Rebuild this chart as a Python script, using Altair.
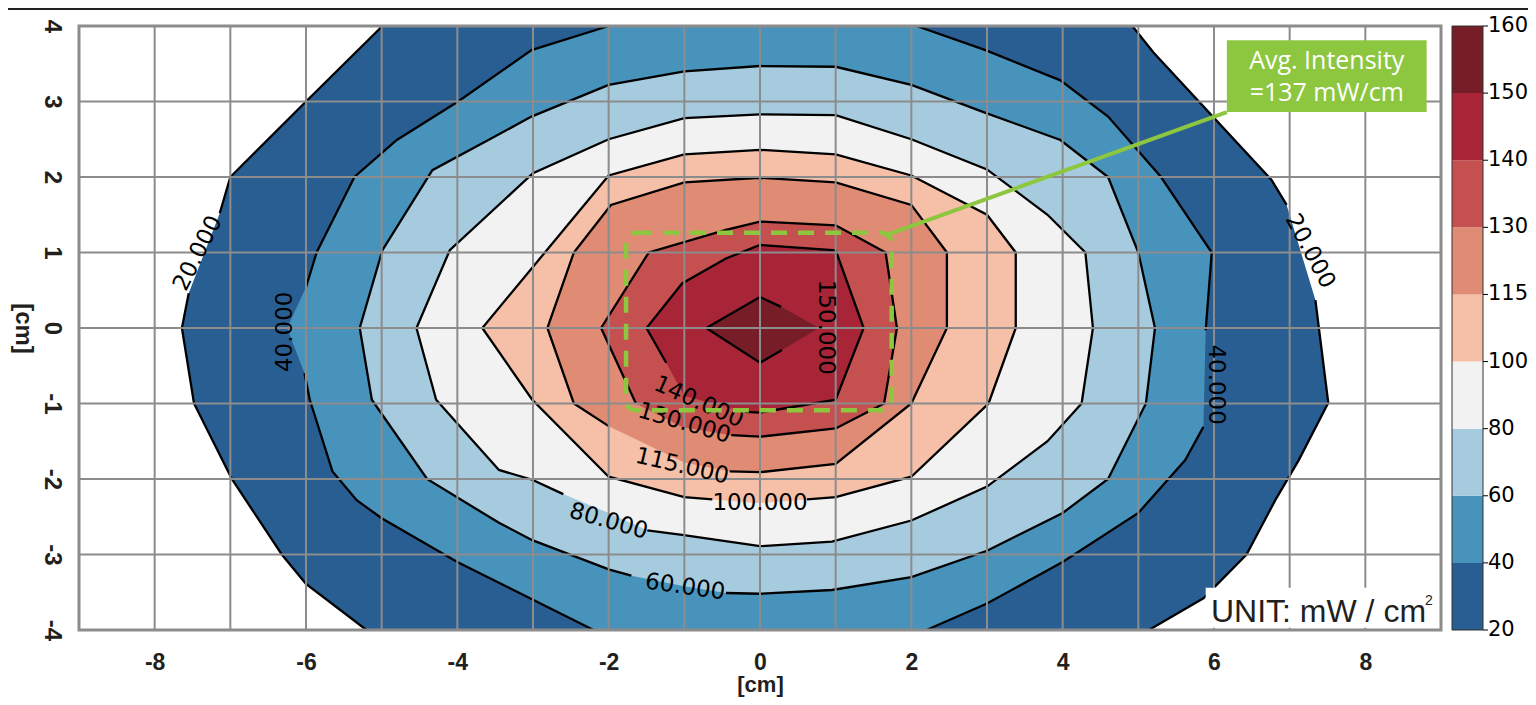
import altair as alt
import pandas as pd

# ---------------- data ----------------
LEVELS = [20, 40, 60, 80, 100, 115, 130, 140, 150, 160]
BAND_COLORS = ['#295e93', '#4893bc', '#a6cbde', '#f2f2f2', '#f6bfa7',
               '#e08b74', '#c4514f', '#a72537', '#761d28']

# contour vertices (x [cm], y [cm]); None = pen-up (label gap)
C20 = [(-4.99, 4), (-6.0, 3.0), (-7.0, 2.0), (-7.14, 1.52), None,
       (-7.55, 0.46), (-7.64, 0.0), (-7.48, -1.0), (-6.98, -2.0), (-6.32, -3.0),
       (-6.0, -3.39), (-5.2, -4), None,
       (5.14, -4), (5.86, -3.58), (6.43, -3.0), (6.81, -2.28), (7.12, -1.75),
       (7.51, -0.99), (7.34, 0.37), None, (6.96, 1.63), (6.76, 1.96),
       (5.2, 3.65), (4.92, 4)]
C40 = [(-2.0, 4), (-3.02, 3.68), (-3.99, 3.0), (-4.8, 2.49), (-5.36, 2.0),
       (-5.86, 1.0), (-6.0, 0.54), None, (-6.25, 0.0), None, (-6.02, -0.6),
       (-5.95, -0.95), (-5.65, -1.9), (-5.33, -2.28), (-5.0, -2.52),
       (-4.0, -3.1), (-3.0, -3.6), (-2.2, -4), None,
       (2.2, -4), (3.0, -3.65), (4.0, -3.1), (5.0, -2.45), (5.62, -1.75),
       (5.86, -1.31), None, (5.89, -0.03), (5.97, 1.0), (5.3, 2.0),
       (4.6, 2.8), (3.97, 3.28), (2.98, 3.68), (2.07, 4)]
C60 = [(-0.45, -3.51), (0.0, -3.52), (0.95, -3.47), (2.0, -3.3), (3.0, -2.95),
       (4.0, -2.45), (4.6, -2.0), (5.1, -1.0), (5.22, 0.0), (5.0, 1.0),
       (4.6, 2.0), (3.97, 2.49), (2.98, 2.85), (2.0, 3.22), (1.0, 3.46),
       (0.0, 3.47), (-1.0, 3.40), (-2.0, 3.22), (-3.02, 2.80), (-3.59, 2.49),
       (-4.33, 2.09), (-4.99, 1.03), (-5.29, 0.0), (-5.13, -0.95),
       (-4.4, -2.0), (-3.45, -2.58), (-3.01, -2.81), (-1.99, -3.2),
       (-1.7, -3.28), None, (-1.0, -3.42), None]
C80 = [(-1.49, -2.68), (-1.03, -2.74), (0.0, -2.89), (0.95, -2.83), (2.0, -2.55),
       (3.0, -2.1), (3.8, -1.5), (4.25, -1.0), (4.4, 0.0), (4.3, 1.0),
       (3.8, 1.5), (3.0, 2.1), (2.0, 2.5), (1.0, 2.82), (0.0, 2.83),
       (-1.0, 2.78), (-2.0, 2.5), (-3.0, 2.05), (-4.1, 1.03), (-4.54, 0.0),
       (-4.28, -0.95), (-3.45, -1.88), (-3.01, -2.01), (-2.6, -2.2), None,
       (-2.0, -2.45), None]
C100 = [(0.62, -2.27), (1.0, -2.24), (2.0, -1.97), (3.02, -1.0), (3.38, 0.0),
        (3.38, 1.0), (3.0, 1.5), (2.0, 2.02), (1.0, 2.3), (0.0, 2.36),
        (-1.0, 2.3), (-2.0, 2.02), (-3.67, 0.0), (-3.01, -0.95), (-2.0, -1.97),
        (-1.0, -2.24), (-0.63, -2.27), None, (0.0, -2.32), None]
C115 = [(-2.0, -1.3), (-2.46, -1.0), (-2.81, 0.0), (-2.46, 1.0), (-1.97, 1.63),
        (-1.0, 1.93), (0.0, 1.99), (1.0, 1.93), (2.0, 1.63), (2.47, 1.0),
        (2.47, 0.0), (2.0, -1.0), (1.0, -1.8), (0.0, -1.91), (-0.4, -1.9),
        None, (-1.0, -1.78), None]
C130 = [(-1.64, -1.0), (-2.1, 0.0), (-1.47, 1.0), (-0.45, 1.3), (0.0, 1.41),
        (1.0, 1.36), (1.66, 1.0), (1.81, 0.0), (1.64, -1.0), (1.0, -1.33),
        (0.0, -1.44), (-0.38, -1.42), None, (-1.03, -1.31), None]
C140 = [(-1.24, -0.46), (-1.5, 0.0), (-1.03, 0.59), (-0.45, 0.92), (0.0, 1.1),
        (1.0, 1.03), (1.37, 0.0), (1.0, -0.95), (0.0, -1.12), (-0.2, -1.11),
        None, (-1.0, -0.9), None]
C150 = [(-0.71, 0.0), (0.0, 0.41), (0.28, 0.28), None, (0.78, 0.0), None,
        (0.29, -0.29), (0.0, -0.46)]
CLOSED = [False, False, True, True, True, True, True, True, True]

# inline contour labels
LAB_TEXT = ['20.000', '40.000', '20.000', '40.000', '150.000', '140.000',
            '130.000', '115.000', '100.000', '80.000', '60.000']
LAB_X = [-7.43, -6.28, 7.27, 6.03, 0.87, -0.81, -1.0, -1.03, 0.0, -2.0, -0.99]
LAB_Y = [0.99, -0.05, 1.02, -0.75, 0.01, -0.98, -1.26, -1.83, -2.32, -2.56, -3.43]
LAB_ANGLE = [297, 270, 62, 90, 90, 24, 16, 13, 0, 16, 8]

GRID_X = list(range(-8, 9))
GRID_Y = list(range(-3, 4))
X_TICKS = list(range(-8, 9, 2))
Y_TICKS = list(range(-4, 5))

# annotations
BOX_RECT = [-1.77, 1.74, -1.09, 1.26]          # dashed region x1,x2,y1,y2
LEADER = [1.64, 1.22, 6.17, 2.86]              # x1,y1,x2,y2
NOTE_BOX = [6.17, 8.81, 2.86, 3.81]
NOTE_TEXT = ['Avg. Intensity', '=137 mW/cm']
NOTE_TX = [7.49, 7.49]
NOTE_TY = [3.54, 3.11]
UNIT_BOX = [5.89, 8.92, -3.97, -3.44]
UNIT_TEXT = 'UNIT: mW / cm'

GREEN = '#8dc63f'
CONTOURS = [C20, C40, C60, C80, C100, C115, C130, C140, C150]

# ---------------- scales / axes ----------------
XS = alt.Scale(domain=[-9, 9], nice=False, zero=False)
YS = alt.Scale(domain=[-4, 4], nice=False, zero=False)
XAX = alt.Axis(values=X_TICKS, grid=False, ticks=False, tickSize=0, domain=False,
               labelFlush=False, labelExpr="'' + datum.value",
               labelFont='Liberation Sans', labelFontWeight='bold',
               labelFontSize=23, labelColor='#231f20', labelPadding=21,
               title='[cm]', titleFont='Liberation Sans', titleFontWeight='bold',
               titleFontSize=22, titleColor='#231f20', titleY=54,
               titleBaseline='middle')
YAX = alt.Axis(values=Y_TICKS, grid=False, ticks=False, tickSize=0, domain=False,
               labelExpr="'' + datum.value",
               labelFont='Liberation Sans', labelFontWeight='bold', labelFontSize=24,
               labelColor='#231f20', labelPadding=16, labelAngle=90,
               labelAlign='center', labelBaseline='top',
               title='[cm]', titleFont='Liberation Sans', titleFontWeight='bold',
               titleFontSize=24, titleColor='#231f20', titleAngle=90,
               titleX=-57, titleY=302, titleAlign='center', titleBaseline='middle')


def X(f):
    return alt.X(f, type='quantitative', scale=XS, axis=XAX)


def Y(f):
    return alt.Y(f, type='quantitative', scale=YS, axis=YAX)


layers = []
# filled bands (painted from the lowest level up)
for k, pts in enumerate(CONTOURS):
    rows = [{'i': j, 'x': p[0], 'y': p[1]}
            for j, p in enumerate([q for q in pts if q is not None])]
    layers.append(alt.Chart(pd.DataFrame(rows)).mark_line(
        fill=BAND_COLORS[k], strokeWidth=0).encode(
        x=X('x'), y=Y('y'), order=alt.Order('i:Q')))

# contour lines
srows = []
for k, pts in enumerate(CONTOURS):
    seq = list(pts)
    if CLOSED[k] and seq[-1] is not None:
        seq.append(seq[0])
    seg = 0
    for p in seq:
        if p is None:
            seg += 1
            continue
        srows.append({'seg': f'{LEVELS[k]}-{seg}', 'i': len(srows), 'x': p[0], 'y': p[1]})
layers.append(alt.Chart(pd.DataFrame(srows)).mark_line(
    color='black', strokeWidth=2.3, strokeJoin='miter').encode(
    x=X('x'), y=Y('y'), detail='seg:N', order=alt.Order('i:Q')))

# grid
layers.append(alt.Chart(pd.DataFrame({'g': GRID_X})).mark_rule(
    color='#8c8c8c', strokeWidth=2).encode(x=X('g')))
layers.append(alt.Chart(pd.DataFrame({'g': GRID_Y})).mark_rule(
    color='#8c8c8c', strokeWidth=2).encode(y=Y('g')))

# contour labels
layers.append(alt.Chart(pd.DataFrame({'t': LAB_TEXT, 'x': LAB_X, 'y': LAB_Y,
                                      'a': LAB_ANGLE})).mark_text(
    font='DejaVu Sans', fontSize=23, color='black', baseline='middle', align='center').encode(
    x=X('x'), y=Y('y'), text='t:N', angle=alt.Angle('a:Q', scale=None)))

# dashed region
layers.append(alt.Chart(pd.DataFrame({'x1': [BOX_RECT[0]], 'x2': [BOX_RECT[1]],
                                      'y1': [BOX_RECT[2]], 'y2': [BOX_RECT[3]]})).mark_rect(
    fillOpacity=0, stroke=GREEN, strokeWidth=4.5, strokeDash=[16, 11], cornerRadius=10).encode(
    x=X('x1'), x2='x2', y=Y('y1'), y2='y2'))

# leader line
layers.append(alt.Chart(pd.DataFrame({'x1': [LEADER[0]], 'y1': [LEADER[1]],
                                      'x2': [LEADER[2]], 'y2': [LEADER[3]]})).mark_rule(
    color=GREEN, strokeWidth=4).encode(x=X('x1'), y=Y('y1'), x2='x2', y2='y2'))

# green note box
layers.append(alt.Chart(pd.DataFrame({'x1': [NOTE_BOX[0]], 'x2': [NOTE_BOX[1]],
                                      'y1': [NOTE_BOX[2]], 'y2': [NOTE_BOX[3]]})).mark_rect(
    color=GREEN).encode(x=X('x1'), x2='x2', y=Y('y1'), y2='y2'))
layers.append(alt.Chart(pd.DataFrame({'t': NOTE_TEXT, 'x': NOTE_TX, 'y': NOTE_TY})).mark_text(
    font='Open Sans', fontSize=25, color='white', baseline='middle', align='center').encode(
    x=X('x'), y=Y('y'), text='t:N'))

# unit box
layers.append(alt.Chart(pd.DataFrame({'x1': [UNIT_BOX[0]], 'x2': [UNIT_BOX[1]],
                                      'y1': [UNIT_BOX[2]], 'y2': [UNIT_BOX[3]]})).mark_rect(
    color='white').encode(x=X('x1'), x2='x2', y=Y('y1'), y2='y2'))
layers.append(alt.Chart(pd.DataFrame({'t': [UNIT_TEXT], 'x': [UNIT_BOX[0] + 0.07],
                                      'y': [UNIT_BOX[2] + 0.08]})).mark_text(
    font='Liberation Sans', fontSize=32, color='#231f20', baseline='alphabetic', align='left').encode(
    x=X('x'), y=Y('y'), text='t:N'))
layers.append(alt.Chart(pd.DataFrame({'t': ['2'], 'x': [UNIT_BOX[1] - 0.13],
                                      'y': [UNIT_BOX[2] + 0.30]})).mark_text(
    font='Liberation Sans', fontSize=14, color='#231f20', baseline='alphabetic', align='left').encode(
    x=X('x'), y=Y('y'), text='t:N'))

# frame
layers.append(alt.Chart(pd.DataFrame({'x1': [-9], 'x2': [9], 'y1': [-4], 'y2': [4]})).mark_rect(
    fillOpacity=0, stroke='#8c8c8c', strokeWidth=3).encode(
    x=X('x1'), x2='x2', y=Y('y1'), y2='y2'))

# colour bar (equal-height bands, labels at band edges)
nb = len(BAND_COLORS)
cb = pd.DataFrame({'y0': [-4 + i * 8 / nb for i in range(nb)],
                   'y1': [-4 + (i + 1) * 8 / nb for i in range(nb)],
                   'c': BAND_COLORS})
layers.append(alt.Chart(cb).mark_rect().encode(
    x=alt.value(1373), x2=alt.value(1404), y=Y('y0'), y2='y1',
    color=alt.Color('c:N', scale=None)))
layers.append(alt.Chart(pd.DataFrame({'y0': [-4], 'y1': [4]})).mark_rect(
    fillOpacity=0, stroke='#333333', strokeWidth=1).encode(
    x=alt.value(1373), x2=alt.value(1404), y=Y('y0'), y2='y1'))
cbl = pd.DataFrame({'b': [-4 + i * 8 / nb for i in range(nb + 1)],
                    't': [str(v) for v in LEVELS]})
layers.append(alt.Chart(cbl).mark_rule(color='black', strokeWidth=1).encode(
    x=alt.value(1404), x2=alt.value(1409), y=Y('b')))
layers.append(alt.Chart(cbl).mark_text(
    font='DejaVu Sans', fontSize=21, color='black', align='left', baseline='middle').encode(
    x=alt.value(1409), y=Y('b'), text='t:N'))

# dark strip along the top edge of the figure
layers.append(alt.Chart(pd.DataFrame({'k': [0]})).mark_rect(color='#231f20').encode(
    x=alt.value(-71), x2=alt.value(1449), y=alt.value(-18), y2=alt.value(-16)))

chart = alt.layer(*layers).properties(
    width=1362, height=604,
    padding={'left': 71, 'top': 18, 'right': 87, 'bottom': 67},
    autosize=alt.AutoSizeParams(type='none'),
    background='white',
).configure_view(stroke=None)

chart.save('out.html', embed_options={'renderer': 'svg', 'actions': False})
